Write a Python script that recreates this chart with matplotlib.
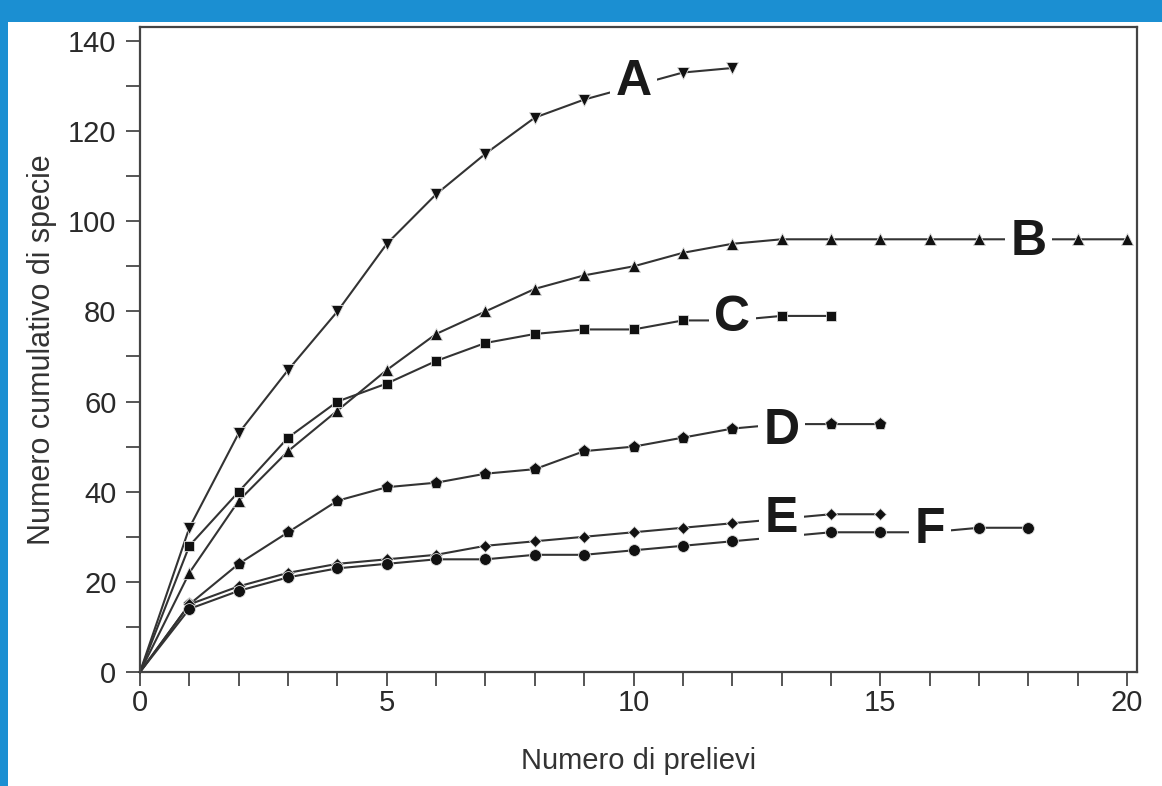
import numpy as np
import matplotlib.pyplot as plt
from matplotlib.patches import Rectangle
from matplotlib.ticker import MultipleLocator

# cumulative species count per sample
A = [0, 32, 53, 67, 80, 95, 106, 115, 123, 127, 130, 133, 134]
B = [0, 22, 38, 49, 58, 67, 75, 80, 85, 88, 90, 93, 95, 96, 96, 96, 96, 96, 96, 96, 96]
C = [0, 28, 40, 52, 60, 64, 69, 73, 75, 76, 76, 78, 78, 79, 79]
D = [0, 15, 24, 31, 38, 41, 42, 44, 45, 49, 50, 52, 54, 55, 55, 55]
E = [0, 15, 19, 22, 24, 25, 26, 28, 29, 30, 31, 32, 33, 34, 35, 35]
F = [0, 14, 18, 21, 23, 24, 25, 25, 26, 26, 27, 28, 29, 30, 31, 31, 31, 32, 32]

names = ["A", "B", "C", "D", "E", "F"]
series = [A, B, C, D, E, F]
markers = ["v", "^", "s", "p", "D", "o"]
msizes = [9, 9, 7.5, 9.5, 6, 8.5]
# where the letter sits on its curve
label_x = [10, 18, 12, 13, 13, 16]
label_y = [131, 95.5, 78.5, 53.5, 34, 31.5]

plt.rcParams['font.family'] = ['Liberation Sans', 'DejaVu Sans']

fig = plt.figure(figsize=(11.62, 7.86), dpi=100, facecolor='#1b8fd2')
# white sheet over the blue background
fig.patches.append(Rectangle((8 / 1162, 0), 1 - 8 / 1162, 764 / 786,
                             transform=fig.transFigure, facecolor='white',
                             edgecolor='none', zorder=-5))
ax = fig.add_axes([140 / 1162, 1 - 672 / 786, 997 / 1162, 645 / 786])
ax.set_facecolor('white')

for name, y, m, ms in zip(names, series, markers, msizes):
    x = np.arange(len(y))
    ax.plot(x, y, color='#333333', lw=1.5, marker=m, ms=ms,
            markerfacecolor='#111111', markeredgecolor='#dddddd',
            markeredgewidth=0.6, markevery=slice(1, None), zorder=2,
            clip_on=False)

for name, lx, ly in zip(names, label_x, label_y):
    ax.text(lx, ly, name, fontsize=36, fontweight='bold', color='#1a1a1a',
            ha='center', va='center', zorder=3,
            bbox=dict(facecolor='white', edgecolor='none', pad=4))

ax.set_xlim(0, 20.2)
ax.set_ylim(0, 143.1)
ax.xaxis.set_major_locator(MultipleLocator(5))
ax.xaxis.set_minor_locator(MultipleLocator(1))
ax.yaxis.set_major_locator(MultipleLocator(20))
ax.yaxis.set_minor_locator(MultipleLocator(10))
ax.tick_params(which='both', direction='out', length=10, width=1.4,
               color='#555555', top=False, right=False)
ax.tick_params(which='major', labelsize=21, labelcolor='#2a2a2a')
ax.tick_params(axis='y', which='major', pad=7)
ax.tick_params(axis='x', which='major', pad=2)

for s in ax.spines.values():
    s.set_linewidth(1.6)
    s.set_color('#444444')

ax.set_xlabel('Numero di prelievi', fontsize=21, color='#333333', labelpad=22)
ax.set_ylabel('Numero cumulativo di specie', fontsize=22, color='#333333', labelpad=8)

fig.savefig('out.png', dpi=100, facecolor=fig.get_facecolor())
